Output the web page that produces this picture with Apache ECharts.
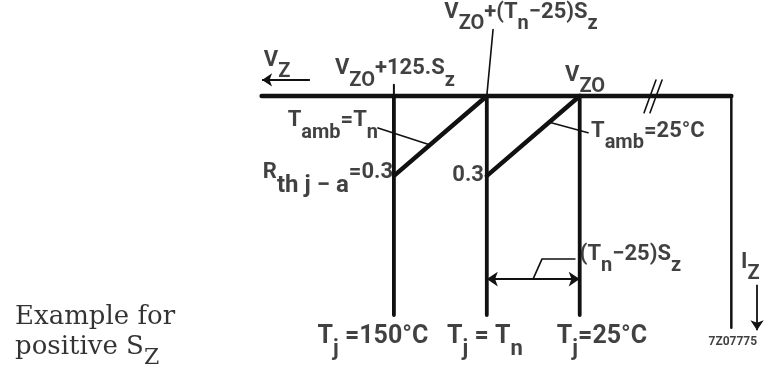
<!DOCTYPE html>
<html>
<head>
<meta charset="utf-8">
<script src="https://cdn.jsdelivr.net/npm/echarts@6/dist/echarts.min.js"></script>
<style>
  html, body { margin: 0; background: #fff; }
  #chart { width: 767px; height: 371px; }
</style>
</head>
<body>
<div id="chart"></div>
<script>
// x = Tj - 25 (°C), Vz grows to the left; y = Iz, grows downward
const tjLines = [125, 62.5, 0]          // Tj = 150°C, Tj = Tn, Tj = 25°C
const tjBottom = 2.74
const vzAxis = [[214, 0], [-102, 0]]
const frameRight = [[-102, 0], [-102, 2.9]]
const loadLines = [
  [[125, 1.0], [62.5, 0]],               // Tamb = Tn, Rth j-a = 0.3
  [[62.5, 1.0], [0, 0]]                  // Tamb = 25°C
]
const tick125 = [[125, -0.14], [125, 0]]
const leaders = [
  [[62.5, 0], [58.3, -0.83]],
  [[135.7, 0.4], [101, 0.61]],
  [[20.4, 0.33], [-5.6, 0.46]],
  [[31.4, 2.29], [25.4, 2.04], [3.2, 2.04]]
]
const breakMarks = [
  [[-43.3, 0.21], [-51.3, -0.2]],
  [[-47.3, 0.21], [-55.4, -0.2]]
]
const dimArrow = [[62.5, 2.29], [0, 2.29]]
const vzArrow = [[181.5, -0.2], [213.7, -0.2]]
const izArrow = [[-119.3, 2.36], [-119.3, 2.93]]

const labels = [
  { text: '{b|V}{s|ZO}{b|+(T}{s|n}{b|−25)S}{s|z}', x: 39.5, y: -0.98, align: 'center' },
  { text: '{b|V}{s|ZO}{b|+125.S}{s|z}', x: 124.3, y: -0.27, align: 'center' },
  { text: '{b|V}{s|Z}', x: 203.6, y: -0.375, align: 'center' },
  { text: '{b|V}{s|ZO}', x: -3.6, y: -0.19, align: 'center' },
  { text: '{b|T}{s|amb}{b|=T}{s|n}', x: 135.7, y: 0.38, align: 'right' },
  { text: '{b|R}{w|th j − a}{b|=0.3}', x: 125.6, y: 1.05, align: 'right' },
  { text: '{b|0.3}', x: 64.4, y: 1.0, align: 'right' },
  { text: '{b|T}{s|amb}{b|=25°C}', x: -7.6, y: 0.51, align: 'left' },
  { text: '{b|(T}{s|n}{b|−25)S}{s|z}', x: 0, y: 2.05, align: 'left' },
  { text: '{b|I}{s|Z}', x: -108.5, y: 2.15, align: 'left' },
  { text: '{t|7Z07775}', x: -103, y: 3.08, align: 'center' },
  { text: '{B|T}{S|j}{B| =150°C}', x: 139.1, y: 3.08, align: 'center' },
  { text: '{B|T}{S|j}{B| = T}{S|n}', x: 63.7, y: 3.08, align: 'center' },
  { text: '{B|T}{S|j}{B|=25°C}', x: -15.0, y: 3.08, align: 'center' },
  { text: '{r|Example for}', x: 379.9, y: 2.77, align: 'left' },
  { text: '{r|positive S}{z|Z}', x: 379.9, y: 3.2, align: 'left' }
]

const ink = '#111'
const font = 'Roboto, "DejaVu Sans", sans-serif'
const serif = '"DejaVu Serif", serif'

const chart = echarts.init(document.getElementById('chart'))

const seg = (coords, width) => ({ coords, lineStyle: { width } })
const tok = (fontSize, lineHeight, verticalAlign, extra) =>
  Object.assign({ fontSize, lineHeight, verticalAlign, fontFamily: font, fontWeight: 'bold', color: ink }, extra)

chart.setOption({
  backgroundColor: '#fff',
  animation: false,
  grid: { left: 0, right: 0, top: 0, bottom: 0 },
  xAxis: { type: 'value', min: -126, max: 390, inverse: true, show: false },
  yAxis: { type: 'value', min: -1.2, max: 3.44, inverse: true, show: false },
  series: [
    {
      type: 'lines',
      coordinateSystem: 'cartesian2d',
      polyline: true,
      symbol: 'none',
      lineStyle: { color: ink, opacity: 1, cap: 'round' },
      data: [
        seg(vzAxis, 4.5),
        seg(frameRight, 2.5),
        ...tjLines.map(t => seg([[t, 0], [t, tjBottom]], 3.8)),
        ...loadLines.map(l => seg(l, 4.5)),
        seg(tick125, 2),
        ...leaders.map(l => seg(l, 1.6)),
        ...breakMarks.map(l => seg(l, 1.6))
      ]
    },
    {
      type: 'lines',
      coordinateSystem: 'cartesian2d',
      symbol: ['arrow', 'arrow'],
      symbolSize: 11,
      lineStyle: { color: ink, opacity: 1, width: 1.8 },
      data: [{ coords: dimArrow }]
    },
    {
      type: 'lines',
      coordinateSystem: 'cartesian2d',
      symbol: ['none', 'arrow'],
      symbolSize: 10,
      lineStyle: { color: ink, opacity: 1, width: 1.8 },
      data: [{ coords: vzArrow }, { coords: izArrow }]
    },
    {
      type: 'scatter',
      symbolSize: 0,
      silent: true,
      data: labels.map(l => ({
        value: [l.x, l.y],
        label: { formatter: l.text, align: l.align }
      })),
      label: {
        show: true,
        position: 'inside',
        verticalAlign: 'middle',
        color: ink,
        fontFamily: font,
        rich: {
          b: tok(22, 22, 'top'),
          s: tok(20, 33, 'bottom'),
          w: tok(24, 36, 'bottom'),
          B: tok(25, 25, 'top'),
          S: tok(22, 36, 'bottom'),
          t: tok(12, 12, 'middle'),
          r: tok(26, 26, 'top', { fontFamily: serif, fontWeight: 'normal', color: '#000' }),
          z: tok(22, 35, 'bottom', { fontFamily: serif, fontWeight: 'normal', color: '#000' })
        }
      }
    }
  ]
})
</script>
</body>
</html>
